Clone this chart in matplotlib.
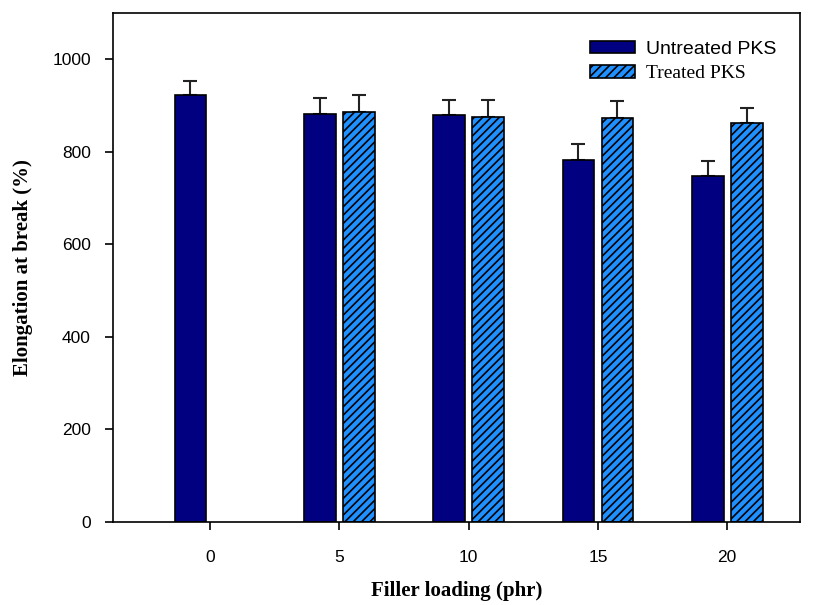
import matplotlib
matplotlib.use("Agg")
import matplotlib.pyplot as plt
import numpy as np

# data
loading = ["0", "5", "10", "15", "20"]
untreated = [923, 882, 879, 782, 747]
untreated_err = [30, 34, 34, 35, 33]
treated = [np.nan, 887, 876, 873, 863]
treated_err = [0, 35, 35, 36, 31]

plt.rcParams['hatch.linewidth'] = 1.2

fig = plt.figure(figsize=(8.15, 6.05), dpi=100)
ax = fig.add_axes([0.1387, 0.1372, 0.9816 - 0.1387, 0.9785 - 0.1372])

x = np.arange(len(loading))
w = 0.245
off = 0.151

ax.bar(x - off, untreated, w, color="#000080", edgecolor="black", linewidth=1.2,
       label="Untreated PKS", zorder=2)
ax.bar(x + off, treated, w, color="#1E90FF", edgecolor="black", linewidth=1.2,
       hatch="////", label="Treated PKS", zorder=2)

ax.errorbar(x - off, untreated, yerr=[np.zeros(len(x)), untreated_err], fmt="none",
            ecolor="#222222", elinewidth=1.5, capsize=5, capthick=1.5, zorder=1)
mask = ~np.isnan(treated)
ax.errorbar((x + off)[mask], np.array(treated)[mask],
            yerr=[np.zeros(mask.sum()), np.array(treated_err)[mask]], fmt="none",
            ecolor="#222222", elinewidth=1.5, capsize=5, capthick=1.5, zorder=1)

ax.set_xlim(-0.75, 4.563)
ax.set_ylim(0, 1100)
ax.set_xticks(x)
ax.set_xticklabels(loading, fontfamily="Liberation Sans", fontsize=12.5)
ax.set_yticks([0, 200, 400, 600, 800, 1000])
ax.set_yticklabels(["0", "200", "400", "600", "800", "1000"],
                   fontfamily="Liberation Sans", fontsize=12.5)
ax.tick_params(direction="out", length=6, width=1.2, top=False, right=False)
ax.tick_params(axis="x", pad=14)
ax.tick_params(axis="y", pad=10)
for s in ax.spines.values():
    s.set_linewidth(1.2)

ax.set_xlabel("Filler loading (phr)", fontfamily="Liberation Serif",
              fontweight="bold", fontsize=15, labelpad=12)
ax.set_ylabel("Elongation at break (%)", fontfamily="Liberation Serif",
              fontweight="bold", fontsize=15, labelpad=14)

leg = ax.legend(loc="upper right", bbox_to_anchor=(0.985, 0.972), frameon=False,
                fontsize=14, handlelength=2.3, handleheight=0.62,
                labelspacing=0.36, handletextpad=0.57, borderaxespad=0.3)
leg.get_texts()[0].set_fontfamily("Liberation Sans")
leg.get_texts()[1].set_fontfamily("Liberation Serif")

fig.savefig("out.png", dpi=100)
